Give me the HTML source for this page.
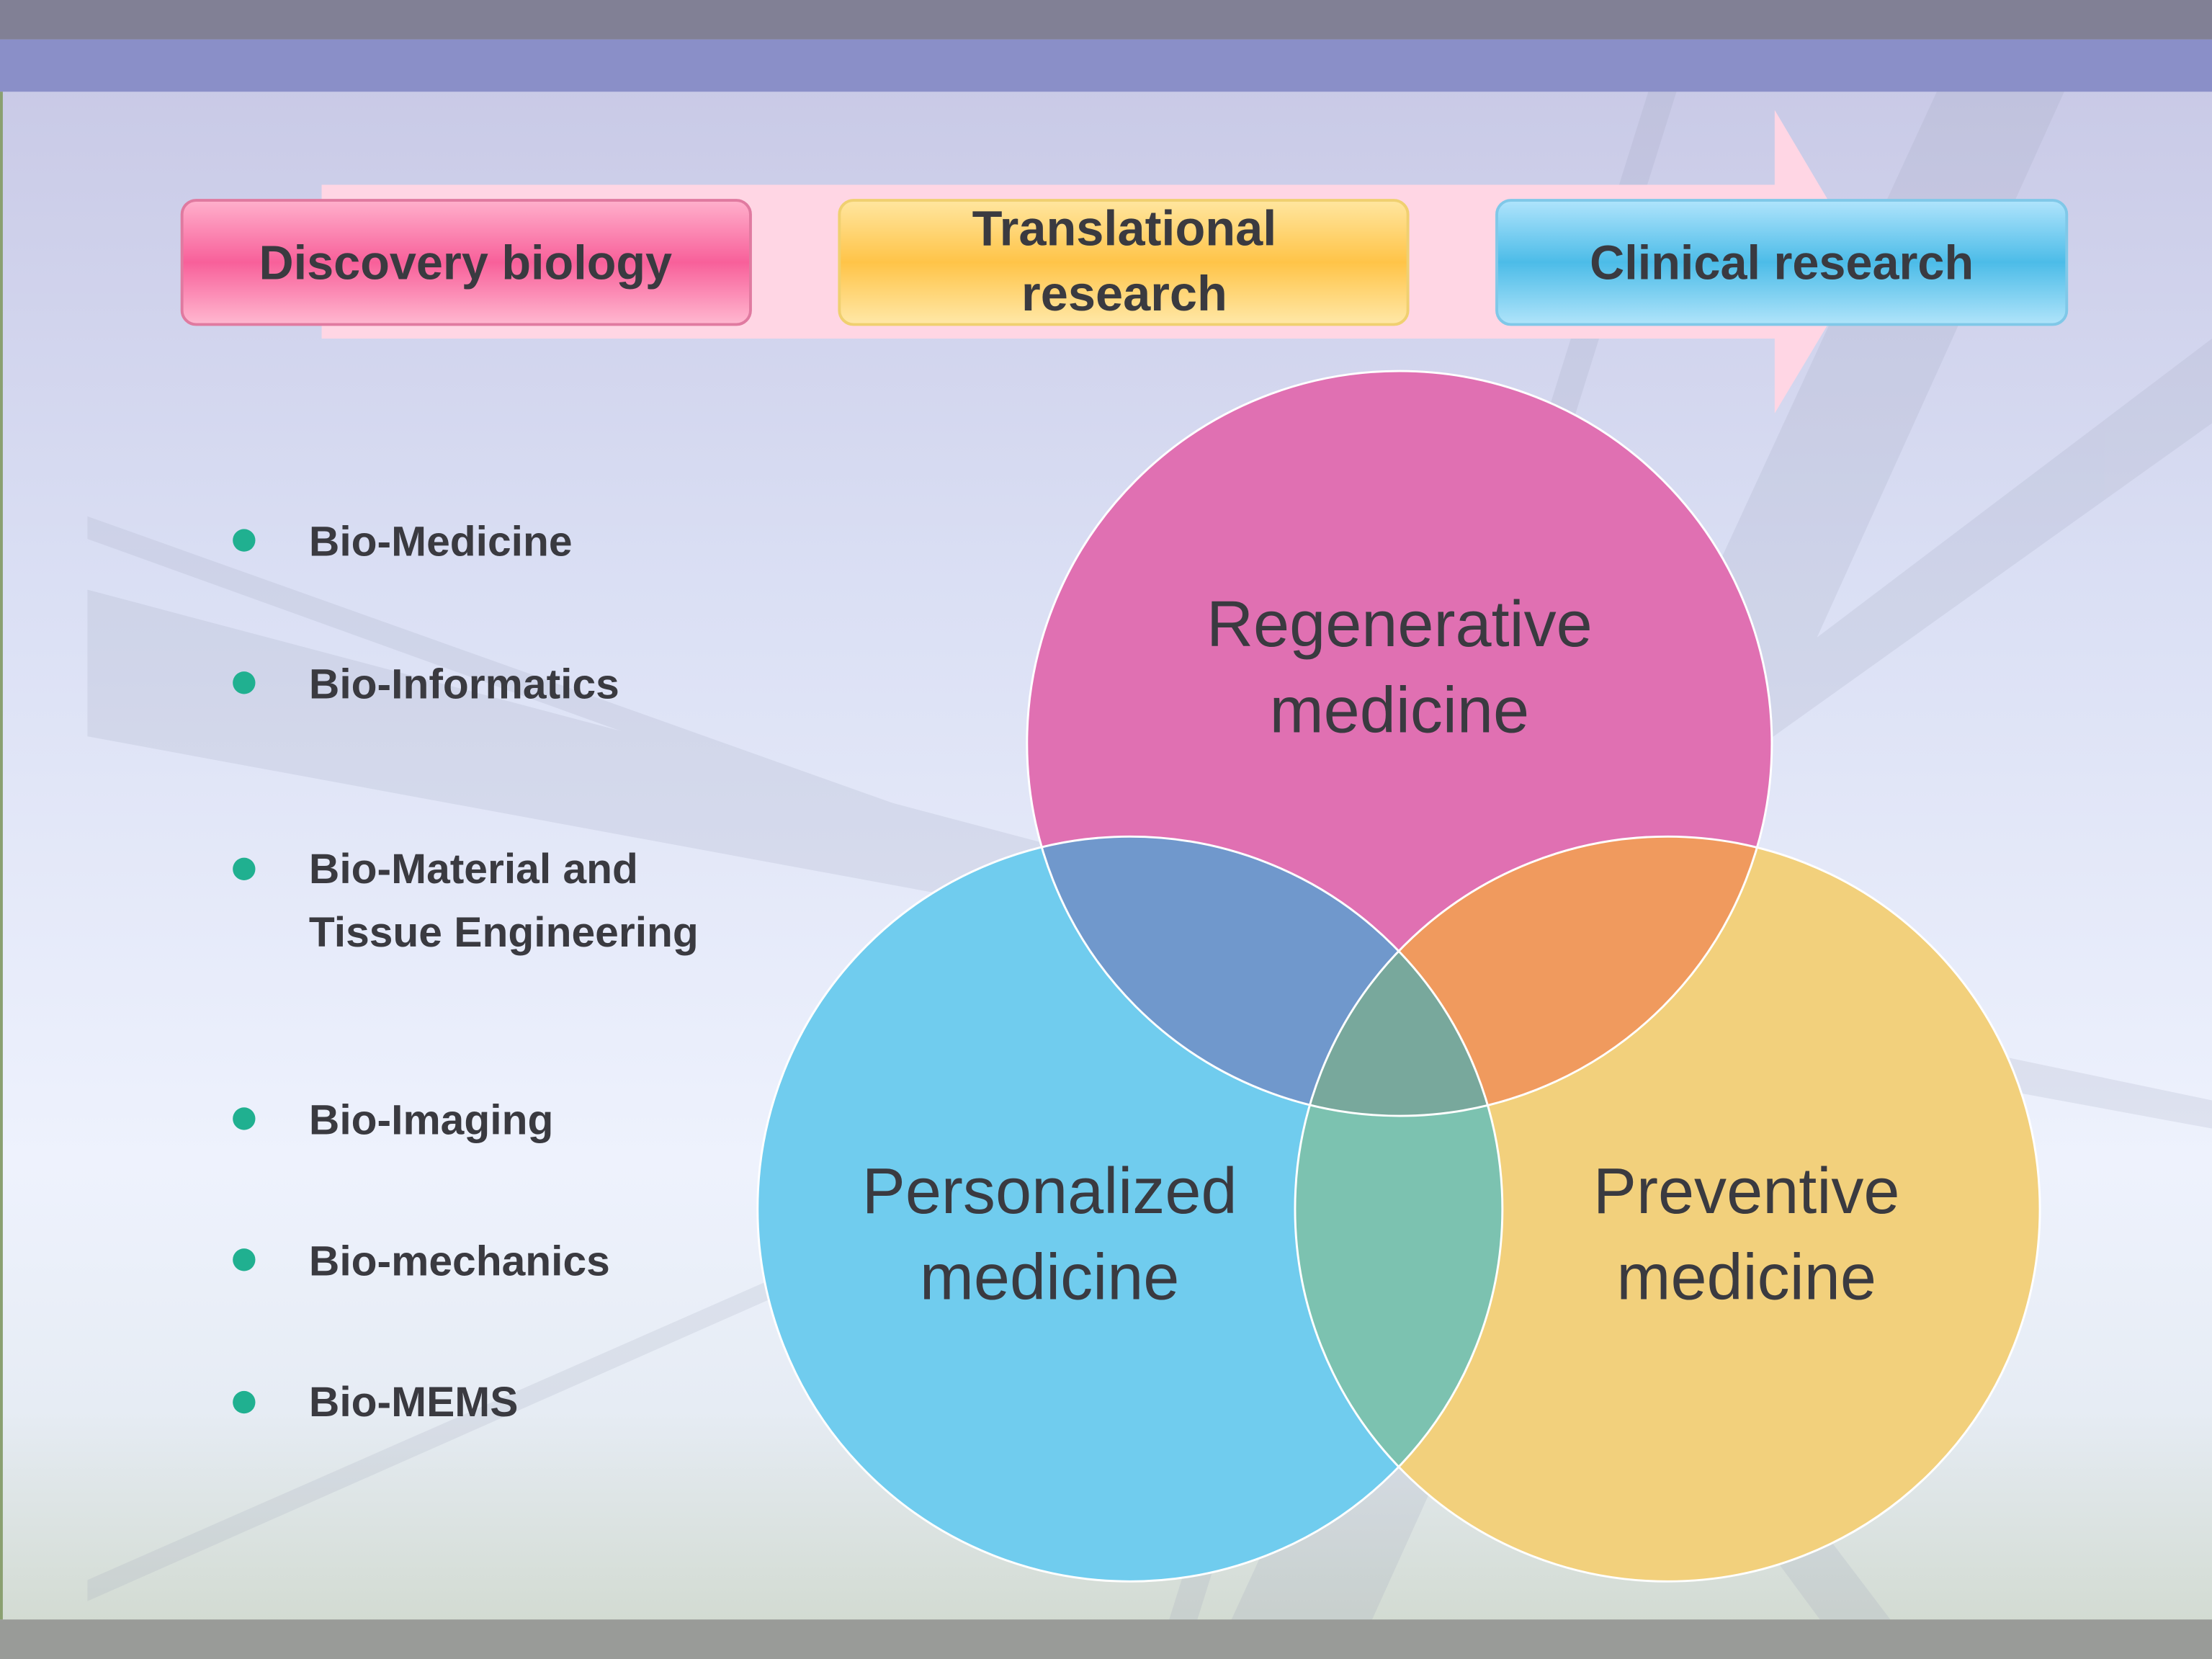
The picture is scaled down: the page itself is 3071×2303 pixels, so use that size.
<!DOCTYPE html>
<html><head><meta charset="utf-8"><style>
html,body{margin:0;padding:0;width:3071px;height:2303px;overflow:hidden}
svg{display:block}
text{font-family:"Liberation Sans",sans-serif;fill:#3a3a40}
</style></head><body>
<svg width="3071" height="2303" viewBox="0 0 1568 1176" preserveAspectRatio="none" xmlns="http://www.w3.org/2000/svg">
<defs>
<linearGradient id="bg" x1="0" y1="0" x2="0" y2="1">
<stop offset="0" stop-color="#c6c6e4"/>
<stop offset="0.35" stop-color="#dadff4"/>
<stop offset="0.7" stop-color="#eef2fd"/>
<stop offset="0.85" stop-color="#e6ecf4"/>
<stop offset="1" stop-color="#cfd8cc"/>
</linearGradient>
<linearGradient id="pk" x1="0" y1="0" x2="0" y2="1">
<stop offset="0" stop-color="#ffb0cc"/><stop offset="0.5" stop-color="#f8609a"/><stop offset="1" stop-color="#ffb8d0"/>
</linearGradient>
<linearGradient id="yl" x1="0" y1="0" x2="0" y2="1">
<stop offset="0" stop-color="#ffe6a0"/><stop offset="0.5" stop-color="#ffc448"/><stop offset="1" stop-color="#ffe8a8"/>
</linearGradient>
<linearGradient id="bl" x1="0" y1="0" x2="0" y2="1">
<stop offset="0" stop-color="#b0e4fc"/><stop offset="0.5" stop-color="#4cbce8"/><stop offset="1" stop-color="#b0e4fa"/>
</linearGradient>
<clipPath id="cP"><circle cx="992" cy="527" r="264"/></clipPath>
<clipPath id="cB"><circle cx="801" cy="857" r="264"/></clipPath>
</defs>
<rect width="1568" height="1176" fill="url(#bg)"/>
<!-- streaks -->
<g fill="#9aa0b8" opacity="0.18">
<polygon points="62,366 62,382 1000,720 1000,700"/>
<polygon points="62,418 62,522 1568,800 1568,780 900,640"/>
<polygon points="1568,240 1568,300 980,720 960,700"/>
<polygon points="1480,28 1390,28 860,1176 960,1176"/>
<polygon points="1200,28 1180,28 820,1176 840,1176"/>
<polygon points="62,1120 62,1135 1000,720 990,712"/>
<polygon points="960,700 1000,700 1340,1148 1290,1148"/>
</g>
<rect x="0" y="0" width="1568" height="28" fill="#818095"/>
<rect x="0" y="28" width="1568" height="37" fill="#8a8fc8"/>
<rect x="0" y="1148" width="1568" height="28" fill="#999b98"/>
<rect x="0" y="65" width="2" height="1083" fill="#8aa070"/>
<!-- arrow -->
<polygon points="228,131 1258,131 1258,78 1322,186 1258,293 1258,240 228,240" fill="#ffd6e4"/>
<!-- boxes -->
<rect x="129" y="142" width="403" height="88" rx="10" fill="url(#pk)" stroke="#e07aa0" stroke-width="2"/>
<rect x="595" y="142" width="403" height="88" rx="10" fill="url(#yl)" stroke="#f0d070" stroke-width="2"/>
<rect x="1061" y="142" width="404" height="88" rx="10" fill="url(#bl)" stroke="#80c8e8" stroke-width="2"/>
<g font-size="35" font-weight="bold" text-anchor="middle">
<text x="330" y="198" font-size="34">Discovery biology</text>
<text x="797" y="174">Translational</text>
<text x="797" y="220">research</text>
<text x="1263" y="198" font-size="34">Clinical research</text>
</g>
<!-- circles -->
<circle cx="992" cy="527" r="264" fill="#e070b2"/>
<circle cx="801" cy="857" r="264" fill="#70ccee"/>
<circle cx="1182" cy="857" r="264" fill="#f2d07c"/>
<circle cx="801" cy="857" r="264" fill="#7098cc" clip-path="url(#cP)"/>
<circle cx="1182" cy="857" r="264" fill="#f09a5e" clip-path="url(#cP)"/>
<circle cx="1182" cy="857" r="264" fill="#7cc2b0" clip-path="url(#cB)"/>
<g clip-path="url(#cP)"><circle cx="1182" cy="857" r="264" fill="#78a89c" clip-path="url(#cB)"/></g>
<g fill="none" stroke="#fff" stroke-width="1.5">
<circle cx="992" cy="527" r="264"/><circle cx="801" cy="857" r="264"/><circle cx="1182" cy="857" r="264"/>
</g>
<g font-size="46" text-anchor="middle" fill="#3a3a40">
<text x="992" y="458">Regenerative</text>
<text x="992" y="519">medicine</text>
<text x="744" y="860">Personalized</text>
<text x="744" y="921">medicine</text>
<text x="1238" y="860">Preventive</text>
<text x="1238" y="921">medicine</text>
</g>
<!-- bullets -->
<g fill="#20b090">
<circle cx="173" cy="383" r="8"/><circle cx="173" cy="484" r="8"/><circle cx="173" cy="616" r="8"/>
<circle cx="173" cy="793" r="8"/><circle cx="173" cy="893" r="8"/><circle cx="173" cy="994" r="8"/>
</g>
<g font-size="30" font-weight="bold">
<text x="219" y="394">Bio-Medicine</text>
<text x="219" y="495">Bio-Informatics</text>
<text x="219" y="626">Bio-Material and</text>
<text x="219" y="671">Tissue Engineering</text>
<text x="219" y="804">Bio-Imaging</text>
<text x="219" y="904">Bio-mechanics</text>
<text x="219" y="1004">Bio-MEMS</text>
</g>
</svg>
</body></html>
